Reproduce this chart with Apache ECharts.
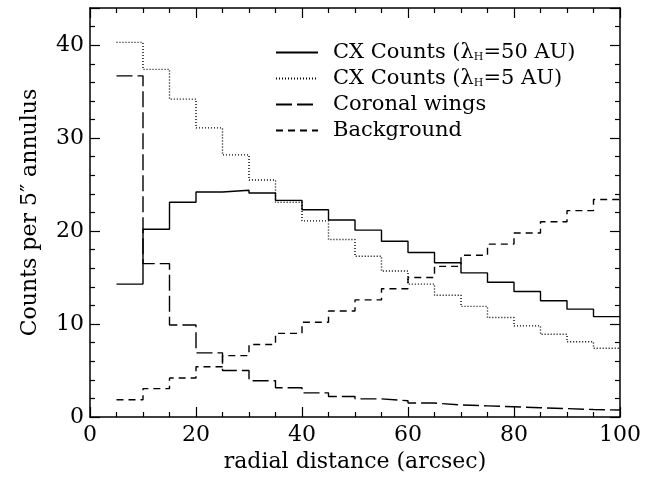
<!DOCTYPE html>
<html><head><meta charset="utf-8">
<script src="https://cdn.jsdelivr.net/npm/echarts@6/dist/echarts.min.js"></script>
<style>html,body{margin:0;padding:0;background:#fff}#c{width:659px;height:478px}</style>
</head><body><div id="c"></div>
<script>
// Bin start positions (arcsec), each bin 5 arcsec wide
const binStarts = [5,10,15,20,25,30,35,40,45,50,55,60,65,70,75,80,85,90,95];
const binWidth = 5;
const cx50 = [14.3,20.2,23.1,24.2,24.4,24.1,23.3,22.3,21.2,20.1,18.9,17.7,16.6,15.5,14.5,13.5,12.5,11.6,10.8];
const cx5 = [40.3,37.4,34.2,31.1,28.2,25.5,23.1,21.1,19.1,17.3,15.7,14.3,13.1,11.9,10.7,9.8,8.9,8.1,7.4];
const coronal = [36.7,16.5,9.9,6.9,5.0,3.9,3.15,2.6,2.2,1.95,1.75,1.5,1.3,1.2,1.1,1.0,0.9,0.8,0.75];
const background = [1.85,3.05,4.2,5.4,6.6,7.8,9.0,10.2,11.4,12.6,13.8,15.0,16.2,17.4,18.6,19.8,21.0,22.2,23.4];
const seriesNames = ['CX Counts (λH=50 AU)','CX Counts (λH=5 AU)','Coronal wings','Background'];
const xTicks = [0,20,40,60,80,100];
const yTicks = [0,10,20,30,40];

function steps(vals){
  const d = binStarts.map((x,i)=>[x, vals[i]]);
  d.push([binStarts[binStarts.length-1]+binWidth, vals[vals.length-1]]);
  return d;
}
const FONT = 'DejaVu Serif';
const axisCommon = {
  axisLine:{show:true,onZero:false,lineStyle:{color:'#000',width:1.5}},
  axisTick:{show:true,inside:true,length:10,lineStyle:{color:'#000',width:1.2}},
  splitLine:{show:false}
};
const minor = (n)=>({show:true,splitNumber:n,length:5,lineStyle:{color:'#000',width:1.2}});
const chart = echarts.init(document.getElementById('c'));
const mk = (name, vals, type) => ({
  name, type:'line', step:'end', symbol:'none', data:steps(vals),
  xAxisIndex:0, yAxisIndex:0,
  lineStyle:{color:'#000', width:1.4, type},
  itemStyle:{color:'#000'}, animation:false
});
chart.setOption({
  animation:false,
  grid:{left:90,right:39,top:8,bottom:61},
  legend:{
    orient:'vertical', left:270, top:37, itemWidth:42, itemHeight:14, itemGap:5,
    itemStyle:{opacity:0},
    data:seriesNames,
    formatter:(n)=>{
      if(n===seriesNames[0]) return '{n|CX Counts (λ}{s|H}{n|=50 AU)}';
      if(n===seriesNames[1]) return '{n|CX Counts (λ}{s|H}{n|=5 AU)}';
      return '{n|'+n+'}';
    },
    textStyle:{color:'#000',fontFamily:FONT,fontSize:21,padding:[0,0,0,10],
      rich:{n:{fontFamily:FONT,fontSize:21,lineHeight:20,color:'#000'},s:{fontFamily:FONT,fontSize:11,color:'#000',verticalAlign:'bottom',padding:[9,0,0,0]}}}
  },
  xAxis:[
    Object.assign({type:'value',min:0,max:100,interval:20,position:'bottom',
      axisLabel:{color:'#000',fontFamily:FONT,fontSize:22,margin:7,formatter:v=>xTicks.includes(v)?String(v):''},
      name:'radial distance (arcsec)',nameLocation:'middle',nameGap:32,
      nameTextStyle:{color:'#000',fontFamily:FONT,fontSize:22}}, axisCommon, {minorTick:minor(4)}),
    Object.assign({type:'value',min:0,max:100,interval:20,position:'top',axisLabel:{show:false}}, axisCommon, {minorTick:minor(4)})
  ],
  yAxis:[
    Object.assign({type:'value',min:0,max:44,interval:10,position:'left',
      axisLabel:{color:'#000',fontFamily:FONT,fontSize:22,margin:6,showMaxLabel:false,formatter:v=>yTicks.includes(v)?String(v):''},
      name:'Counts per 5″ annulus',nameLocation:'middle',nameGap:49,nameRotate:90,
      nameTextStyle:{color:'#000',fontFamily:FONT,fontSize:22}}, axisCommon, {minorTick:minor(5)}),
    Object.assign({type:'value',min:0,max:44,interval:10,position:'right',axisLabel:{show:false}}, axisCommon, {minorTick:minor(5)})
  ],
  series:[
    mk(seriesNames[0], cx50, 'solid'),
    mk(seriesNames[1], cx5, [1,2]),
    mk(seriesNames[2], coronal, [16,5]),
    mk(seriesNames[3], background, [7,5])
  ]
});
</script></body></html>
